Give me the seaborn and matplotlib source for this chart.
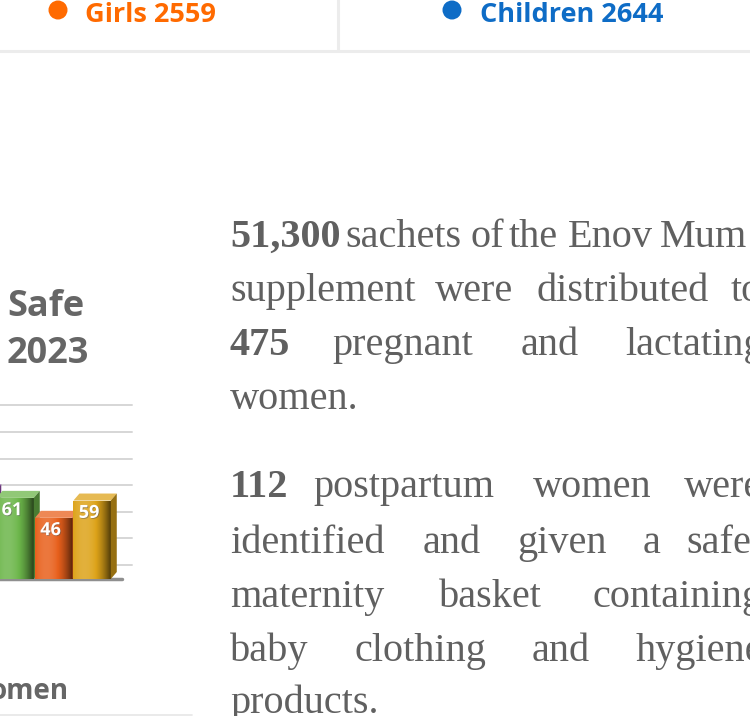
import numpy as np
import matplotlib
matplotlib.use("Agg")
import matplotlib.pyplot as plt
import matplotlib.colors as mcolors
from matplotlib.patches import Polygon, Circle
from matplotlib.transforms import offset_copy
import matplotlib.patheffects as pe
import seaborn as sns

# ---------------- data ----------------
categories = ["A", "B", "C", "D"]
values = [66, 61, 46, 59]
bar_colors = ["#9C4FB4", "#6CB64A", "#E8601C", "#DDA319"]
grid_values = [0, 20, 40, 60, 80, 100, 120]

stat_labels = ["Girls 2559", "Children 2644"]
stat_colors = ["#FF6A00", "#0E6CC6"]

side_heading = ["Safe", "2023"]
side_footer = "omen"

body_lines = [
    [("51,300", True), ("sachets", False), ("of", False), ("the", False), ("Enov", False), ("Mum", False)],
    [("supplement", False), ("were", False), ("distributed", False), ("to", False)],
    [("475", True), ("pregnant", False), ("and", False), ("lactating", False)],
    [("women.", False)],
    [("112", True), ("postpartum", False), ("women", False), ("were", False)],
    [("identified", False), ("and", False), ("given", False), ("a", False), ("safe", False)],
    [("maternity", False), ("basket", False), ("containing", False)],
    [("baby", False), ("clothing", False), ("and", False), ("hygiene", False)],
    [("products.", False)],
]
# layout (pixel positions of justified words / baselines)
word_x = [
    [230, 345, 470, 509, 568, 660],
    [230, 435, 537, 731],
    [230, 332, 521, 625],
    [230],
    [230, 313, 533, 684],
    [230, 423, 517, 643, 686],
    [230, 439, 592],
    [230, 355, 532, 636],
    [230],
]
line_base = [247, 301, 355, 409, 497, 553, 607, 661, 713]

W, H = 750, 716
sns.set_theme(style="white")
plt.rcParams["font.family"] = ["Open Sans", "DejaVu Sans"]

fig = plt.figure(figsize=(W / 100, H / 100), dpi=100)
fig.patch.set_facecolor("white")


def fx(x):
    return x / W


def fy(y):
    return 1 - y / H


# ---------------- page background / texts ----------------
bg = fig.add_axes([0, 0, 1, 1], zorder=-5)
bg.set_xlim(0, W)
bg.set_ylim(H, 0)
bg.axis("off")
bg.plot([0, W], [51, 51], color="#ececec", lw=2.2)
bg.plot([338, 338], [0, 51], color="#ececec", lw=2.2)
bg.plot([0, 192], [715, 715], color="#e6e6e6", lw=1.2)
for (lab, col, dx, tx) in zip(stat_labels, stat_colors, [58, 452], [85, 480]):
    bg.add_patch(Circle((dx, 10), 9.5, color=col, lw=0))
    bg.text(tx, 15, lab, color=col, fontsize=19.5, fontweight="bold",
            va="center", ha="left")

# side headings
for txt, yb in zip(side_heading, [316, 363]):
    bg.text(7, yb, txt, color="#666666", fontsize=26, fontweight="bold",
            va="baseline", ha="left")
bg.text(-10, 699, side_footer, color="#666666", fontsize=20, fontweight="bold",
        va="baseline", ha="left")

# body text
for words, xs, yb in zip(body_lines, word_x, line_base):
    for (w, bold), x in zip(words, xs):
        bg.text(x, yb, w, color="#606060", fontsize=29,
                fontweight="bold" if bold else "normal",
                family=["Liberation Serif", "DejaVu Serif"],
                va="baseline", ha="left")

# ---------------- 3D-like bar chart ----------------
px_per_x = 38.5
px_per_y = 1.33
ax_left_px, ax_right_px = -80, 132
base_px, top_px = 579, 395
xmin = -1.47
xmax = xmin + (ax_right_px - ax_left_px) / px_per_x
ymax = (base_px - top_px) / px_per_y

ax = fig.add_axes([fx(ax_left_px), fy(base_px), (ax_right_px - ax_left_px) / W,
                   (base_px - top_px) / H])
ax.set_facecolor("none")

sns.barplot(x=categories, y=values, hue=categories, palette=bar_colors,
            saturation=1, width=0.97, legend=False, ax=ax)
ax.set_xlim(xmin, xmax)
ax.set_ylim(0, ymax)
ax.axis("off")

# back wall grid (offset for depth)
wall = offset_copy(ax.get_yaxis_transform(), fig=fig, x=10, y=14, units="dots")
for v in grid_values:
    ax.plot([0, 1 - 10 / (ax_right_px - ax_left_px)], [v, v], transform=wall,
            color="#d6d6d6", lw=1.4, zorder=0.2, clip_on=False)
# floor edge
ax.plot([0, 1 - 10 / (ax_right_px - ax_left_px)], [0, 0],
        transform=ax.get_yaxis_transform(),
        color="#8f8f8f", lw=2.5, zorder=0.3, clip_on=False)

dxu = 6 / px_per_x
dyu = 7 / px_per_y


def shade(c, f):
    r, g, b = mcolors.to_rgb(c)
    if f >= 1:
        return tuple(min(1, v + (1 - v) * (f - 1)) for v in (r, g, b))
    return (r * f, g * f, b * f)


patches = list(ax.patches)
for i, (p, col) in enumerate(zip(patches, bar_colors)):
    z = 2 + i * 3
    x0, w, h = p.get_x(), p.get_width(), p.get_height()
    x1 = x0 + w
    p.set_zorder(z)
    p.set_edgecolor("none")
    # horizontal gradient on front face
    t = np.linspace(0, 1, 64)
    prof = 1.15 - 2.0 * (t - 0.3) ** 2 * 0.8
    grad = np.array([shade(col, f) for f in prof])
    grad = np.clip(grad, 0, 1)[None, :, :]
    im = ax.imshow(grad, extent=[x0, x1, 0, h], aspect="auto", zorder=z + 0.1,
                   interpolation="bicubic")
    im.set_clip_path(p)
    # top face
    ax.add_patch(Polygon([(x0, h), (x0 + dxu, h + dyu), (x1 + dxu, h + dyu), (x1, h)],
                         closed=True, color=shade(col, 1.25), lw=0, zorder=z + 0.2))
    # side face
    ax.add_patch(Polygon([(x1, 0), (x1, h), (x1 + dxu, h + dyu), (x1 + dxu, dyu)],
                         closed=True, color=shade(col, 0.68), lw=0, zorder=z + 0.2))
    if i > 0:
        ax.text(x0 + w / 2 - 0.08, h - 2.5, f"{values[i]}", color="white",
                fontsize=13, fontweight="bold", ha="center", va="top",
                zorder=z + 0.5,
                path_effects=[pe.withSimplePatchShadow(offset=(0.6, -0.6),
                                                       shadow_rgbFace="#555555", alpha=0.5)])

ax.set_xlim(xmin, xmax)
ax.set_ylim(0, ymax)

fig.savefig("out.png", dpi=100, facecolor="white")
